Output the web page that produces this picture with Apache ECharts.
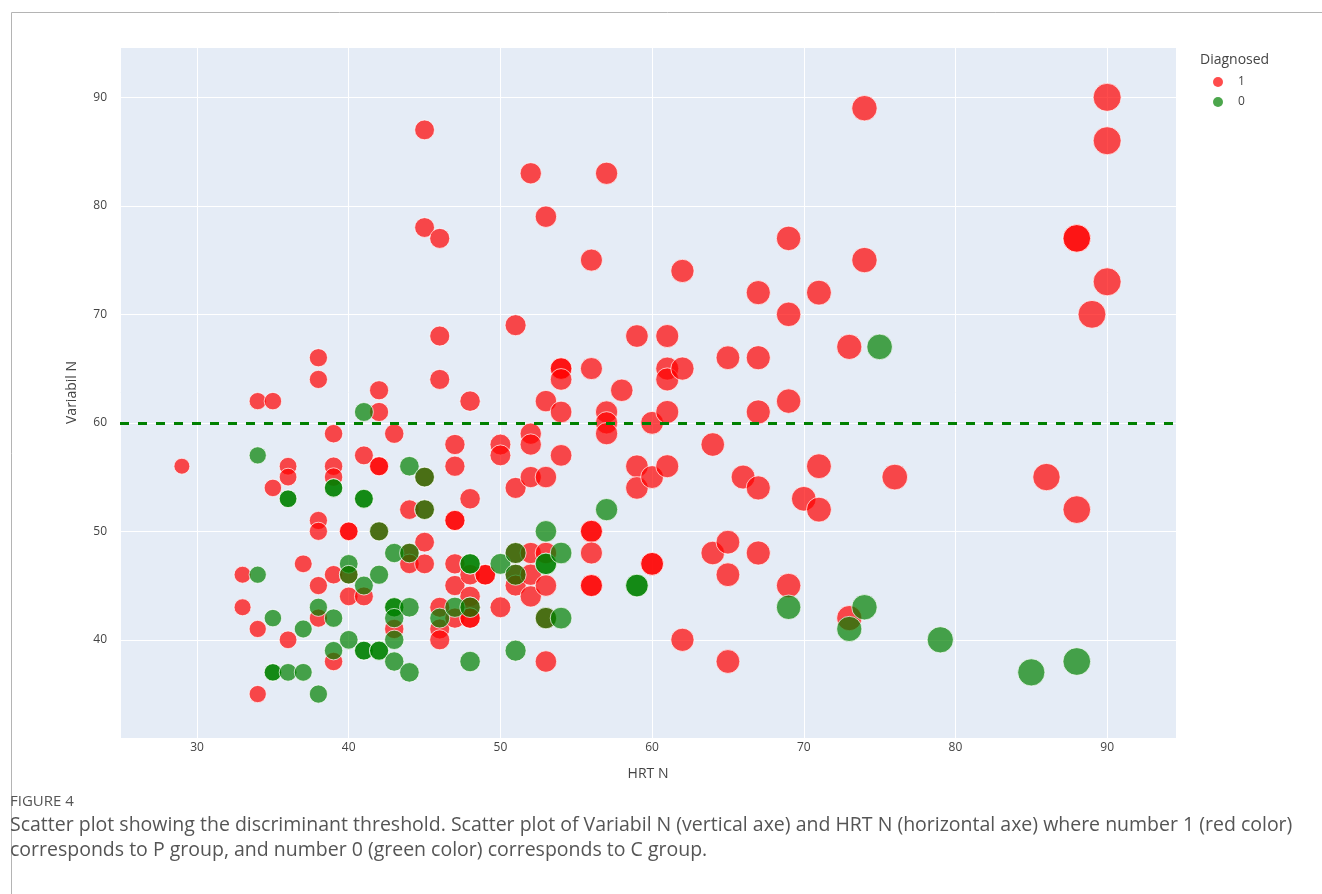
<!DOCTYPE html>
<html>
<head>
<meta charset="utf-8">
<script src="https://cdn.jsdelivr.net/npm/echarts@6/dist/echarts.min.js"></script>
<style>
  html, body { margin: 0; padding: 0; background: #fff; }
  #chart { width: 1322px; height: 894px; }
</style>
</head>
<body>
<div id="chart"></div>
<script>
// Diagnosed = 1 (P group)
const hrtP = [29, 33, 33, 34, 34, 34, 35, 35, 36, 36, 36, 37,
  38, 38, 38, 38, 38, 38, 39, 39, 39, 39, 39,
  40, 40, 40, 40, 41, 41, 42, 42, 42, 42, 42, 43, 43,
  44, 44, 44, 45, 45, 45, 45, 45, 45,
  46, 46, 46, 46, 46, 46, 47, 47, 47, 47, 47, 47, 47,
  48, 48, 48, 48, 48, 48, 48, 49, 49, 50, 50, 50,
  51, 51, 51, 51, 51, 52, 52, 52, 52, 52, 52, 52,
  53, 53, 53, 53, 53, 53, 53, 54, 54, 54, 54, 54,
  56, 56, 56, 56, 56, 56, 56, 57, 57, 57, 57, 58,
  59, 59, 59, 60, 60, 60, 60, 61, 61, 61, 61, 61,
  62, 62, 62, 64, 64, 65, 65, 65, 65, 66,
  67, 67, 67, 67, 67, 69, 69, 69, 69, 70, 71, 71, 71,
  73, 73, 74, 74, 76, 86, 88, 88, 88, 89, 90, 90, 90];
const varP = [56, 46, 43, 62, 41, 35, 62, 54, 56, 55, 40, 47,
  66, 64, 51, 50, 45, 42, 59, 56, 55, 46, 38,
  50, 50, 46, 44, 57, 44, 63, 61, 56, 56, 50, 59, 41,
  52, 48, 47, 87, 78, 55, 52, 49, 47,
  77, 68, 64, 43, 41, 40, 58, 56, 51, 51, 47, 45, 42,
  62, 53, 46, 44, 43, 42, 42, 46, 46, 58, 57, 43,
  69, 54, 48, 46, 45, 83, 59, 58, 55, 48, 46, 44,
  79, 62, 55, 48, 45, 42, 38, 65, 65, 64, 61, 57,
  75, 65, 50, 50, 48, 45, 45, 83, 61, 60, 59, 63,
  68, 56, 54, 60, 55, 47, 47, 68, 65, 64, 61, 56,
  74, 65, 40, 58, 48, 66, 49, 46, 38, 55,
  72, 66, 61, 54, 48, 77, 70, 62, 45, 53, 72, 56, 52,
  67, 42, 89, 75, 55, 55, 77, 77, 52, 70, 90, 86, 73];

// Diagnosed = 0 (C group)
const hrtC = [34, 34, 35, 35, 35, 36, 36, 36, 37, 37, 38, 38,
  39, 39, 39, 39, 40, 40, 40, 41, 41, 41, 41, 41, 41,
  42, 42, 42, 42, 43, 43, 43, 43, 43, 43, 44, 44, 44, 44,
  45, 45, 46, 47, 48, 48, 48, 48, 50, 51, 51, 51,
  53, 53, 53, 53, 54, 54, 57, 59, 59, 69, 73, 74, 75, 79, 85, 88];
const varC = [57, 46, 42, 37, 37, 53, 53, 37, 41, 37, 43, 35,
  54, 54, 42, 39, 47, 46, 40, 61, 53, 53, 45, 39, 39,
  50, 46, 39, 39, 48, 43, 43, 42, 40, 38, 56, 48, 43, 37,
  55, 52, 42, 43, 47, 47, 43, 38, 47, 48, 46, 39,
  50, 47, 47, 42, 48, 42, 52, 45, 45, 43, 41, 43, 67, 40, 37, 38];

const threshold = 60;
const xTicks = ['30', '40', '50', '60', '70', '80', '90'];

const toPoints = (xs, ys) => xs.map((x, i) => [x, ys[i]]);
// bubble area grows with HRT N
const bubble = (val) => 28 * Math.sqrt(val[0] / 90);

const FONT = '"Open Sans", "Noto Sans", sans-serif';
const chart = echarts.init(document.getElementById('chart'), null, { renderer: 'canvas' });

const axisCommon = {
  type: 'value',
  axisLine: { show: false },
  axisTick: { show: false },
  splitLine: { show: true, lineStyle: { color: '#ffffff', width: 1 } },
  nameTextStyle: { fontFamily: FONT, fontSize: 14, color: '#444' }
};

chart.setOption({
  animation: false,
  backgroundColor: '#ffffff',
  grid: {
    left: 120, top: 47, width: 1056, height: 691,
    show: true, backgroundColor: '#E5ECF6', borderWidth: 0
  },
  xAxis: Object.assign({}, axisCommon, {
    min: 24.92, max: 94.54, splitNumber: 7,
    name: 'HRT N', nameLocation: 'middle', nameGap: 29,
    axisLabel: {
      showMinLabel: false, showMaxLabel: false, margin: 4,
      fontFamily: FONT, fontSize: 12, color: '#444',
      formatter: (v) => (xTicks.indexOf(String(v)) >= 0 ? String(v) : '')
    }
  }),
  yAxis: Object.assign({}, axisCommon, {
    min: 30.95, max: 94.64, splitNumber: 7,
    name: 'Variabil N', nameLocation: 'middle', nameGap: 41, nameRotate: 90,
    axisLabel: {
      showMinLabel: false, showMaxLabel: false, margin: 13,
      fontFamily: FONT, fontSize: 12, color: '#444',
      formatter: (v) => (v % 10 === 0 ? String(v) : '')
    }
  }),
  legend: {
    orient: 'vertical', left: 1208, top: 71,
    itemWidth: 30, itemHeight: 10, itemGap: 8,
    icon: 'circle',
    textStyle: { fontFamily: FONT, fontSize: 12, color: '#444' },
    data: [
      { name: '1', itemStyle: { color: 'rgb(255,0,0)', opacity: 0.7, borderWidth: 0 } },
      { name: '0', itemStyle: { color: 'rgb(0,128,0)', opacity: 0.7, borderWidth: 0 } }
    ]
  },
  graphic: [
    { type: 'rect', left: 9, top: 10, silent: true,
      shape: { width: 1400, height: 1000 },
      style: { fill: 'none', stroke: '#b4b4b4', lineWidth: 1 } },
    { type: 'text', left: 1200, top: 53,
      style: { text: 'Diagnosed', font: '14px ' + FONT, fill: '#444' } },
    { type: 'text', left: 10, top: 794,
      style: { text: 'FIGURE 4', font: '15px ' + FONT, fill: '#555' } },
    { type: 'text', left: 10, top: 815,
      style: { text: 'Scatter plot showing the discriminant threshold. Scatter plot of Variabil N (vertical axe) and HRT N (horizontal axe) where number 1 (red color)',
               font: '19.5px ' + FONT, fill: '#555' } },
    { type: 'text', left: 10, top: 840,
      style: { text: 'corresponds to P group, and number 0 (green color) corresponds to C group.',
               font: '19.5px ' + FONT, fill: '#555' } }
  ],
  series: [
    {
      name: '1', type: 'scatter',
      data: toPoints(hrtP, varP),
      symbolSize: bubble,
      itemStyle: { color: 'rgb(255,0,0)', opacity: 0.7, borderColor: '#ffffff', borderWidth: 1 },
      emphasis: { disabled: true },
      markLine: {
        silent: true, symbol: 'none',
        label: { show: false },
        lineStyle: { color: 'rgb(0,128,0)', width: 3, type: [9, 9], opacity: 1 },
        data: [{ yAxis: threshold }]
      }
    },
    {
      name: '0', type: 'scatter',
      data: toPoints(hrtC, varC),
      symbolSize: bubble,
      itemStyle: { color: 'rgb(0,128,0)', opacity: 0.7, borderColor: '#ffffff', borderWidth: 1 },
      emphasis: { disabled: true }
    }
  ]
});
</script>
</body>
</html>
